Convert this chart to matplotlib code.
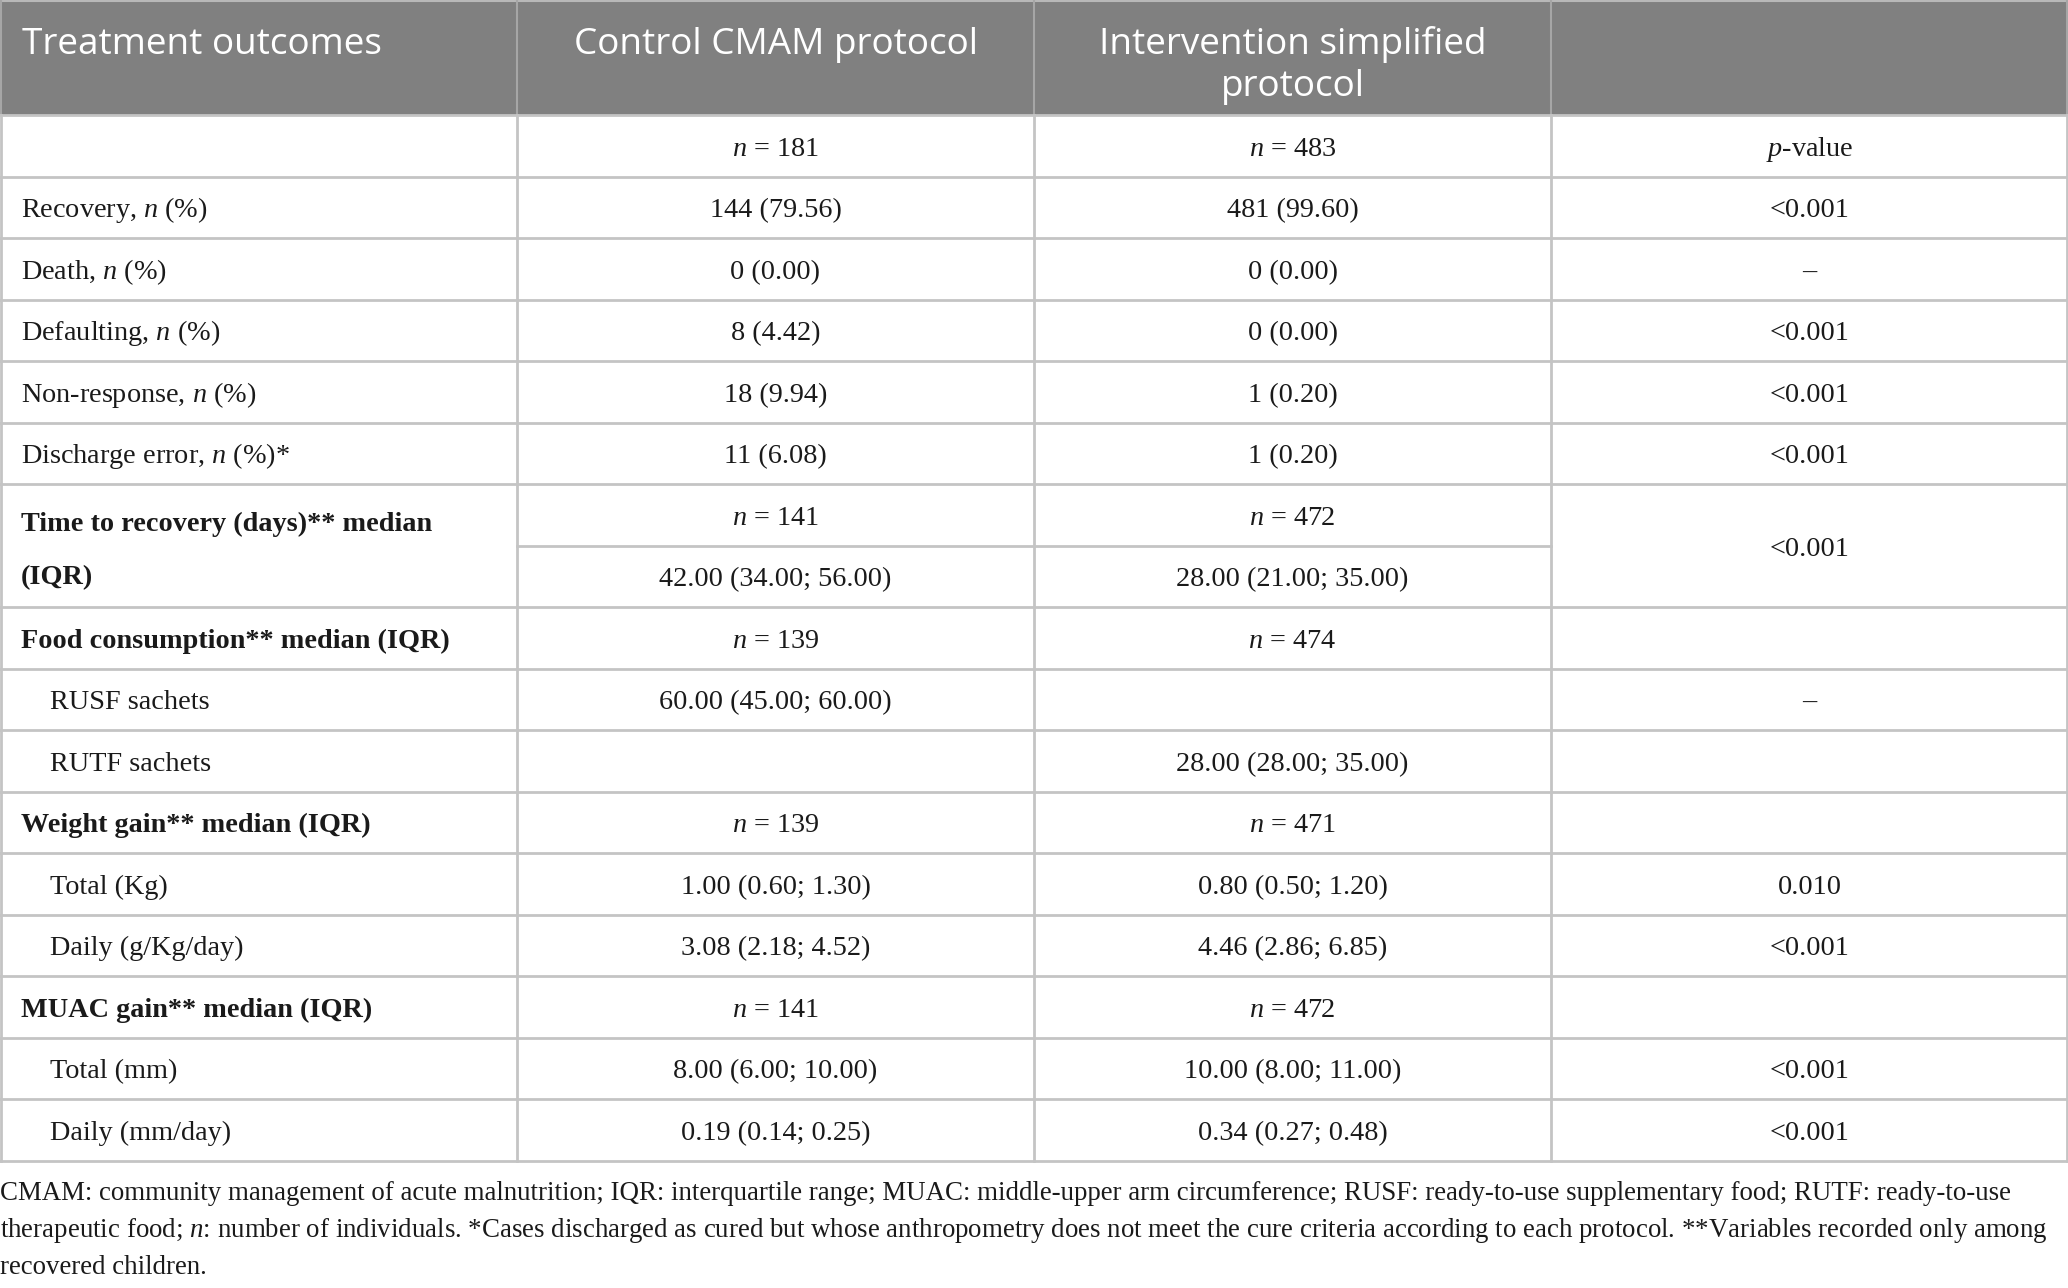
import matplotlib
matplotlib.use("Agg")
import matplotlib.pyplot as plt

# fonts: serif body with italic n / p via mathtext
plt.rcParams['mathtext.fontset'] = 'custom'
plt.rcParams['mathtext.rm'] = 'Liberation Serif'
plt.rcParams['mathtext.it'] = 'Liberation Serif:italic'
plt.rcParams['mathtext.bf'] = 'Liberation Serif:bold'

# ---- table content ----
header = ["Treatment outcomes", "Control CMAM protocol", "Intervention simplified\nprotocol", ""]

labels = ["",
          "Recovery, $n$ (%)",
          "Death, $n$ (%)",
          "Defaulting, $n$ (%)",
          "Non-response, $n$ (%)",
          "Discharge error, $n$ (%)*",
          "Time to recovery (days)** median\n(IQR)",
          "",
          "Food consumption** median (IQR)",
          "RUSF sachets",
          "RUTF sachets",
          "Weight gain** median (IQR)",
          "Total (Kg)",
          "Daily (g/Kg/day)",
          "MUAC gain** median (IQR)",
          "Total (mm)",
          "Daily (mm/day)"]

control = ["$n$ = 181", "144 (79.56)", "0 (0.00)", "8 (4.42)", "18 (9.94)", "11 (6.08)",
           "$n$ = 141", "42.00 (34.00; 56.00)", "$n$ = 139", "60.00 (45.00; 60.00)", "",
           "$n$ = 139", "1.00 (0.60; 1.30)", "3.08 (2.18; 4.52)", "$n$ = 141",
           "8.00 (6.00; 10.00)", "0.19 (0.14; 0.25)"]

intervention = ["$n$ = 483", "481 (99.60)", "0 (0.00)", "0 (0.00)", "1 (0.20)", "1 (0.20)",
                "$n$ = 472", "28.00 (21.00; 35.00)", "$n$ = 474", "", "28.00 (28.00; 35.00)",
                "$n$ = 471", "0.80 (0.50; 1.20)", "4.46 (2.86; 6.85)", "$n$ = 472",
                "10.00 (8.00; 11.00)", "0.34 (0.27; 0.48)"]

pvalues = ["$p$-value", "<0.001", "\u2013", "<0.001", "<0.001", "<0.001",
           "<0.001", "", "", "\u2013", "", "", "0.010", "<0.001", "", "<0.001", "<0.001"]

section_rows = [6, 8, 11, 14]        # bold labels
sub_rows = [9, 10, 12, 13, 15, 16]   # indented labels
merged_rows = [6]                    # label and p-value span this row and the next

footnote = ("CMAM: community management of acute malnutrition; IQR: interquartile range; MUAC: middle-upper arm circumference; RUSF: ready-to-use supplementary food; RUTF: ready-to-use\n"
            "therapeutic food; $n$: number of individuals. *Cases discharged as cured but whose anthropometry does not meet the cure criteria according to each protocol. **Variables recorded only among\n"
            "recovered children.")

# ---- layout (pixels) ----
W, H = 2068, 1288
col_edges = [0, 517, 1034, 1551, W]
header_h = 115
row_h = 61.5
n_rows = len(labels)
table_bottom = header_h + n_rows * row_h

fig = plt.figure(figsize=(W / 100, H / 100), dpi=100)
ax = fig.add_axes([0, 0, 1, 1])
ax.set_xlim(0, W)
ax.set_ylim(H, 0)
ax.axis('off')

line_c = '#c4c4c4'
ax.add_patch(plt.Rectangle((0, 0), W, header_h, facecolor='#808080', edgecolor='none'))
ax.plot([0, W], [1, 1], color='#b8b8b8', lw=1.5)

# header text
hfont = dict(family='Open Sans', fontsize=26.6, color='white')
ax.text(22, 54, header[0], ha='left', va='baseline', **hfont)
for j in (1, 2):
    cx = (col_edges[j] + col_edges[j + 1]) / 2
    for k, ln in enumerate(header[j].split("\n")):
        ax.text(cx, 54 + 42 * k, ln, ha='center', va='baseline', **hfont)

# vertical lines
for j, x in enumerate(col_edges):
    x = min(max(x, 1), W - 1)
    ax.plot([x, x], [0, header_h], color='#a6a6a6', lw=1.5)
    ax.plot([x, x], [header_h, table_bottom], color=line_c, lw=2)

# horizontal lines
ax.plot([0, W], [header_h, header_h], color=line_c, lw=2)
for i in range(n_rows):
    y = header_h + (i + 1) * row_h
    if i in merged_rows:
        ax.plot([col_edges[1], col_edges[3]], [y, y], color=line_c, lw=2)
    else:
        ax.plot([0, W], [y, y], color=line_c, lw=2)

body = dict(family='Liberation Serif', fontsize=20.3, color='#1a1a1a', va='baseline')
off = 10
for i in range(n_rows):
    yc = header_h + (i + 0.5) * row_h
    ylab = yc
    if i in merged_rows:
        ylab = yc + row_h / 2
    # label
    if labels[i]:
        x0 = 50 if i in sub_rows else 21
        w = 'bold' if i in section_rows else 'normal'
        lines = labels[i].split("\n")
        extra = 2 if len(lines) > 1 else 0
        for k, ln in enumerate(lines):
            yy = ylab - 26.5 * (len(lines) - 1) + 53 * k
            ax.text(x0, yy + off + extra, ln, ha='left', fontweight=w, **body)
    for j, vals in ((1, control), (2, intervention)):
        cx = (col_edges[j] + col_edges[j + 1]) / 2
        ax.text(cx, yc + off, vals[i], ha='center', **body)
    if pvalues[i]:
        cx = (col_edges[3] + col_edges[4]) / 2
        ax.text(cx, ylab + off, pvalues[i], ha='center', **body)

# footnote
for k, ln in enumerate(footnote.split("\n")):
    ax.text(0, 1200 + 37 * k, ln, ha='left', va='baseline',
            family='Liberation Serif', fontsize=19.35, color='#1a1a1a')

fig.savefig('out.png', dpi=100, facecolor='white')
